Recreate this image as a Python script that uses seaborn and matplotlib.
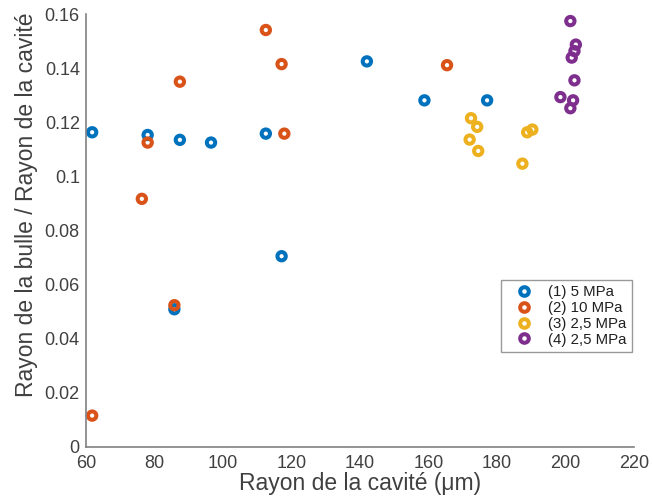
import matplotlib
matplotlib.use("Agg")
import matplotlib.pyplot as plt
import pandas as pd
import seaborn as sns
from matplotlib.lines import Line2D

# --- data -------------------------------------------------------------------
blue_x = [61.8, 78.0, 87.4, 96.5, 112.5, 117.1, 85.8, 142.0, 158.8, 177.1]
blue_y = [0.1163, 0.1153, 0.1135, 0.1125, 0.1158, 0.0705, 0.0509, 0.1425, 0.1281, 0.1281]

orange_x = [61.8, 76.3, 78.0, 85.8, 87.4, 112.5, 117.1, 117.9, 165.4]
orange_y = [0.0116, 0.0917, 0.1125, 0.0524, 0.1350, 0.1541, 0.1415, 0.1158, 0.1411]

yellow_x = [172.4, 174.2, 172.0, 174.5, 188.8, 190.3, 187.4]
yellow_y = [0.1215, 0.1183, 0.1136, 0.1094, 0.1163, 0.1173, 0.1047]

purple_x = [201.4, 203.0, 202.6, 201.8, 202.6, 198.5, 202.2, 201.4]
purple_y = [0.1574, 0.1487, 0.1463, 0.1439, 0.1355, 0.1293, 0.1281, 0.1252]

series_labels = ["(1) 5 MPa", "(2) 10 MPa", "(3) 2,5 MPa", "(4) 2,5 MPa"]
colors = ["#0072BD", "#D95319", "#EDB120", "#7E2F8E"]

x_ticks = [60, 80, 100, 120, 140, 160, 180, 200, 220]
y_ticks = [0, 0.02, 0.04, 0.06, 0.08, 0.1, 0.12, 0.14, 0.16]
y_tick_labels = ["0", "0.02", "0.04", "0.06", "0.08", "0.1", "0.12", "0.14", "0.16"]

frames = []
for lab, xs, ys in zip(series_labels,
                       [blue_x, orange_x, yellow_x, purple_x],
                       [blue_y, orange_y, yellow_y, purple_y]):
    frames.append(pd.DataFrame({"x": xs, "y": ys, "serie": lab}))
df = pd.concat(frames, ignore_index=True)

# --- style --------------------------------------------------------------------
sns.set_style("white")
plt.rcParams["font.family"] = ["Liberation Sans", "DejaVu Sans"]
grey = "#808080"
txt = "#404040"

fig = plt.figure(figsize=(6.53, 5.01), dpi=100)
ax = fig.add_axes([0.1317, 0.1078, 0.8393, 0.8642])

sns.scatterplot(data=df, x="x", y="y", hue="serie", hue_order=series_labels,
                palette=colors, ax=ax, s=36, linewidth=2.9,
                clip_on=False, legend=False)
# hollow rings, as in the MATLAB original
for coll in ax.collections:
    fc = coll.get_facecolors()
    coll.set_edgecolors(fc)
    coll.set_facecolors("none")

ax.set_xlim(60, 220)
ax.set_ylim(0, 0.16)
ax.set_xticks(x_ticks)
ax.set_yticks(y_ticks)
ax.set_yticklabels(y_tick_labels)

for side in ["top", "right"]:
    ax.spines[side].set_visible(False)
for side in ["left", "bottom"]:
    ax.spines[side].set_color(grey)
    ax.spines[side].set_linewidth(1.2)
ax.tick_params(direction="in", length=5, width=1, color=grey,
               labelcolor=txt, labelsize=13)
ax.tick_params(axis="x", pad=6)
ax.tick_params(axis="y", pad=4.5)

ax.set_xlabel("Rayon de la cavité (μm)", fontsize=16.5, color=txt, labelpad=0)
ax.set_ylabel("Rayon de la bulle / Rayon de la cavité", fontsize=16.5,
              color=txt, labelpad=3)
ax.yaxis.set_label_coords(-0.088, 0.56)

handles = [Line2D([], [], ls="none", marker="o", ms=6.2, mfc="none",
                  mec=c, mew=2.9) for c in colors]
leg = ax.legend(handles, series_labels, loc="upper left",
                bbox_to_anchor=(0.767, 0.441), bbox_transform=fig.transFigure,
                fontsize=10.8, frameon=True, fancybox=False, borderaxespad=0,
                handletextpad=0.4, labelspacing=0.12, borderpad=0.35,
                handlelength=2.4)
leg.get_frame().set_edgecolor(grey)
leg.get_frame().set_linewidth(1.0)
for t in leg.get_texts():
    t.set_color("#202020")

fig.savefig("out.png", dpi=100)
